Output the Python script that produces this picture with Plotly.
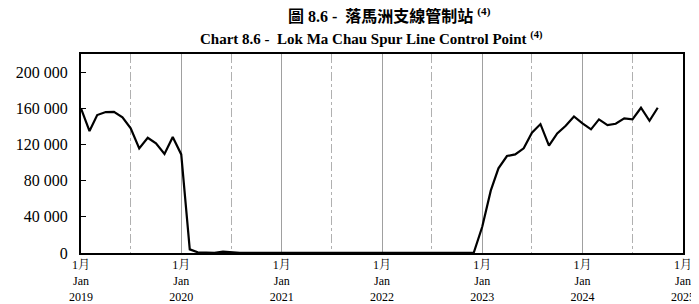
import plotly.graph_objects as go
import pandas as pd

months = pd.date_range("2019-01-01", periods=70, freq="MS")
values = [
    160000, 134800, 152500, 155800, 156000, 150000, 137800, 115700, 127400, 121200, 109400, 128200,
    109000, 4000, 800, 300, 200, 1500, 600, 300, 200, 200, 200, 200,
    200, 200, 200, 200, 200, 200, 200, 200, 200, 200, 300, 800,
    300, 200, 200, 200, 200, 200, 200, 200, 200, 200, 200, 300,
    29000, 68900, 93600, 107200, 109000, 115700, 133000, 142500, 118600, 132200, 140700, 151000,
    143300, 136700, 147700, 141400, 142900, 148800, 147700, 160600, 146200, 160600,
]
x_tickvals = pd.date_range("2019-01-01", "2025-01-01", freq="YS")
x_ticktext = [f"1月<br>Jan<br>{d.year}" for d in x_tickvals]
y_tickvals = [0, 40000, 80000, 120000, 160000, 200000]
title_zh = "<b>圖 8.6 -  落馬洲支線管制站 <sup>(4)</sup></b>"
title_en = "<b>Chart 8.6 -  Lok Ma Chau Spur Line Control Point <sup>(4)</sup></b>"

serif = "Liberation Serif, Noto Serif CJK TC, Noto Sans CJK TC, serif"

fig = go.Figure(go.Scatter(x=months, y=values, mode="lines",
                           line=dict(color="black", width=2.2), hoverinfo="skip"))

# page body has an 8px default margin, so the figure is sized to fit inside it
fig.update_layout(
    width=691, height=296,
    margin=dict(l=73, r=16, t=46, b=51),
    paper_bgcolor="white", plot_bgcolor="white",
    separators=". ",
    showlegend=False,
    font=dict(family=serif, color="black"),
    annotations=[
        dict(text=title_zh, xref="paper", yref="paper", x=0.513, y=1.196,
             xanchor="center", yanchor="middle", showarrow=False,
             font=dict(family="Liberation Serif, Noto Sans CJK TC", size=16, color="black")),
        dict(text=title_en, xref="paper", yref="paper", x=0.483, y=1.08,
             xanchor="center", yanchor="middle", showarrow=False,
             font=dict(family=serif, size=15, color="black")),
    ],
)
fig.update_xaxes(
    range=[x_tickvals[0], x_tickvals[-1]],
    tickvals=x_tickvals, ticktext=x_ticktext,
    tickfont=dict(family=serif, size=12),
    showgrid=True, gridcolor="#a0a0a0", gridwidth=1,
    minor=dict(dtick="M6", tick0="2019-01-01", showgrid=True, gridcolor="#b0b0b0",
               griddash="dashdot", gridwidth=1),
    showline=True, linecolor="black", linewidth=2, mirror=True,
    ticks="", zeroline=False, automargin=False,
)
fig.update_yaxes(
    range=[0, 220000],
    tickvals=y_tickvals, tickformat=",d",
    tickfont=dict(family=serif, size=16),
    showgrid=False, zeroline=False,
    showline=True, linecolor="black", linewidth=2, mirror=True,
    ticks="inside", ticklen=5, tickcolor="black", tickwidth=1,
    ticklabelstandoff=8, automargin=False,
)
fig.write_html("out.html")
